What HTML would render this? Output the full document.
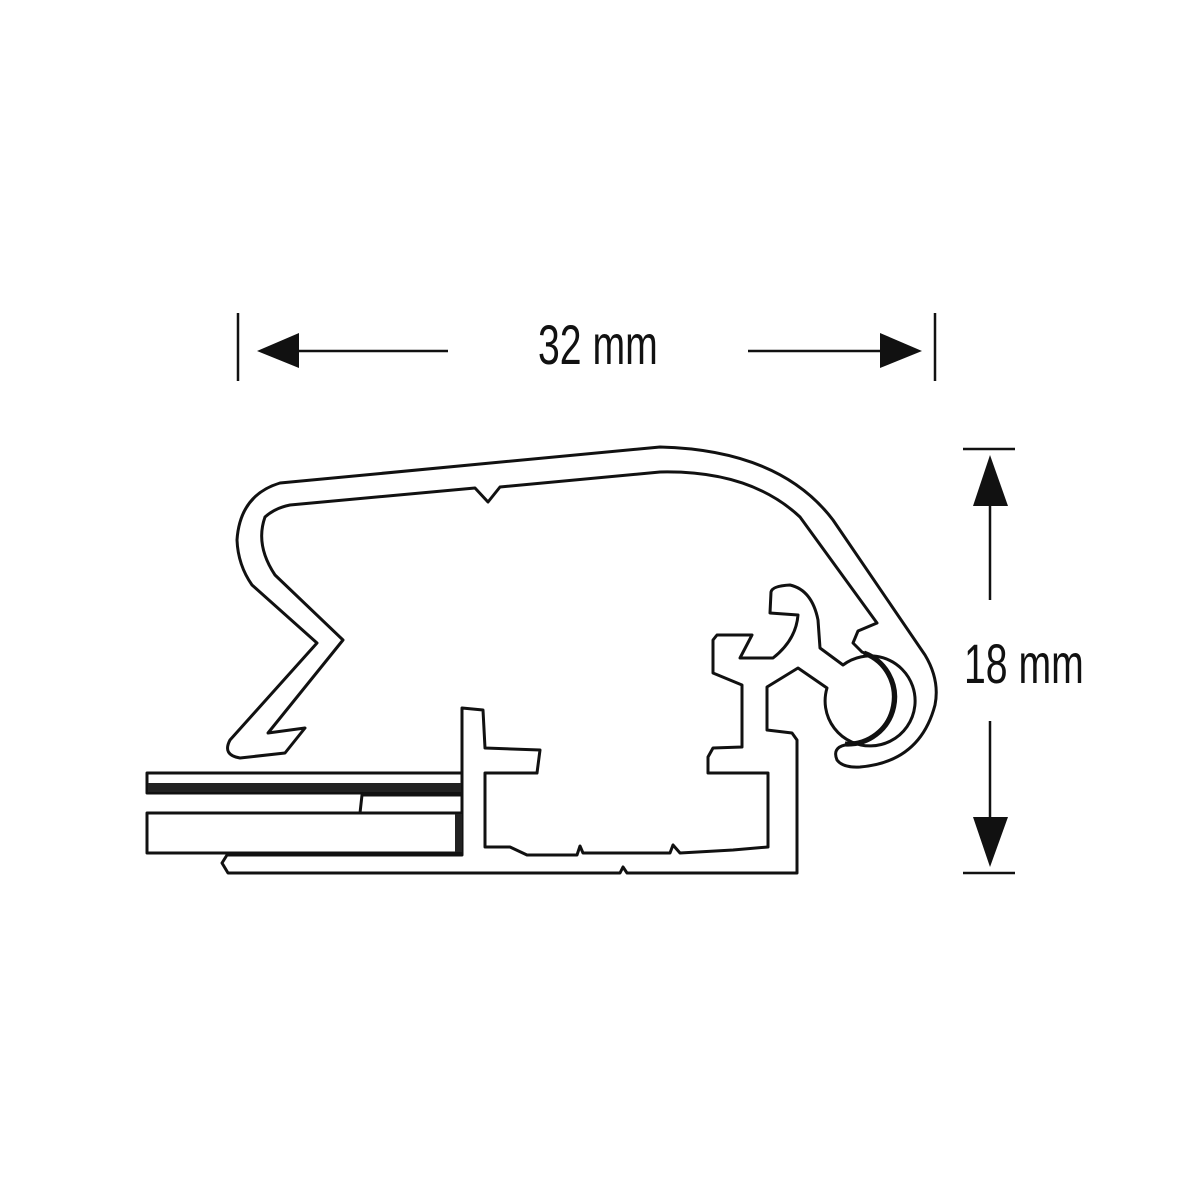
<!DOCTYPE html>
<html><head><meta charset="utf-8"><style>
html,body{margin:0;padding:0;background:#fff;}
svg{display:block}
</style></head><body>
<svg width="1200" height="1200" viewBox="0 0 1200 1200" xmlns="http://www.w3.org/2000/svg">
<rect width="1200" height="1200" fill="#fff"/>
<g stroke="#111" stroke-width="3" fill="none" stroke-linejoin="round">
<!-- cover -->
<path d="M290,505 L475,488 L488,502 L500,487 L660,472 Q750,470 800,517 L877,623 L858,631 L853,643 L862,652 A48 48 0 0 1 845,745 Q832,748 837,760 Q843,768 860,767 Q920,762 935,705 Q940,680 925,655 L833,520 Q780,450 660,447 L280,483 Q240,495 237,540 Q238,565 252,585 L317,643 L230,740 Q222,755 240,758 L285,753 L305,728 L268,733 L343,640 L275,575 Q255,545 265,517 Q275,508 290,505 Z"/>
<!-- base -->
<path d="M843,665 L820,648 L818,620 Q812,590 790,585 Q772,586 771,592 L770,613 L798,615 Q796,640 773,658 L740,658 L752,635 L717,635 L713,640 L713,673 L742,685 L742,747 L713,748 L708,757 L708,773 L768,773 L768,847 L733,850 L680,853 L673,845 L670,853 L583,853 L580,846 L577,855 L527,855 L510,847 L485,847 L485,773 L537,773 L540,750 L485,748 L483,710 L462,708 L462,855 L227,855 L222,863 L228,873 L620,873 L623,867 L627,873 L797,873 L797,740 L792,733 L767,730 L767,687 L798,668 L827,688 A45 45 0 1 0 843,665 Z"/>
<path d="M845,744 A47 47 0 0 0 864,653" stroke-width="5"/>
<!-- plates -->
<rect x="147" y="773" width="315" height="20"/>
<path d="M462,795 L362,795 L360,813"/>
<rect x="147" y="813" width="315" height="40"/>
</g>
<rect x="148" y="783" width="313" height="9" fill="#222"/>
<rect x="455" y="814" width="7" height="38" fill="#222"/>
<!-- dimensions -->
<g stroke="#111" stroke-width="2.5">
<line x1="238" y1="313" x2="238" y2="381"/>
<line x1="935" y1="313" x2="935" y2="381"/>
<line x1="298" y1="351" x2="448" y2="351"/>
<line x1="748" y1="351" x2="880" y2="351"/>
<line x1="963" y1="449" x2="1015" y2="449"/>
<line x1="963" y1="873" x2="1015" y2="873"/>
<line x1="990" y1="505" x2="990" y2="600"/>
<line x1="990" y1="721" x2="990" y2="818"/>
</g>
<g fill="#111">
<polygon points="257,351 299,333 299,368"/>
<polygon points="922,351 880,333 880,368"/>
<polygon points="990,455 973,506 1008,506"/>
<polygon points="990,867 973,817 1008,817"/>
</g>
<g font-family="'Liberation Sans', sans-serif" font-size="56" fill="#111">
<text x="0" y="0" transform="translate(538,364) scale(0.7,1)">32 mm</text>
<text x="0" y="0" transform="translate(964,683) scale(0.7,1)">18 mm</text>
</g>
</svg>
</body></html>
